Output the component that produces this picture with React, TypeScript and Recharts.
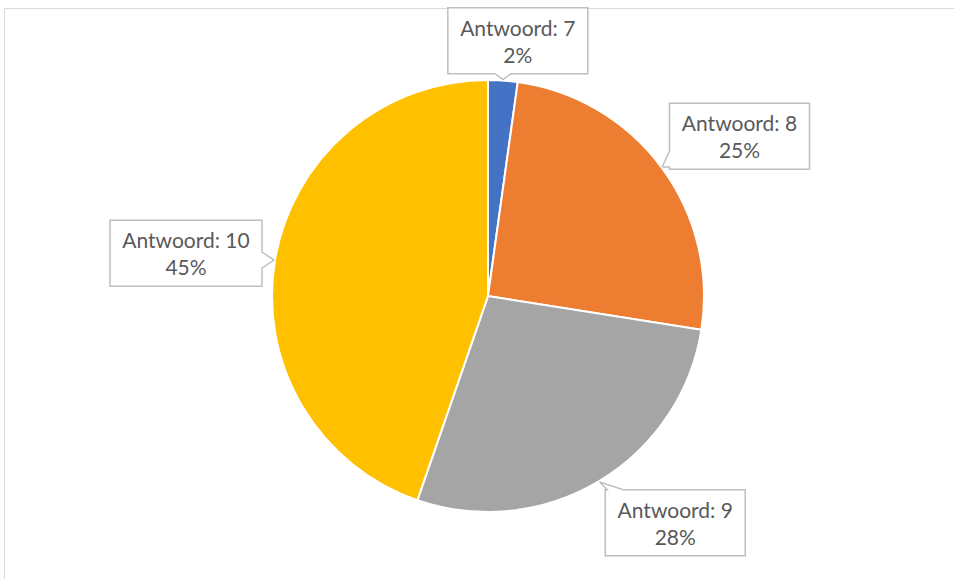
import { PieChart, Pie, Cell } from "recharts"

// ─── Data ────────────────────────────────────────────────────────────────────
const answers = ["Antwoord: 7", "Antwoord: 8", "Antwoord: 9", "Antwoord: 10"]
const shares = [2.2, 25.3, 27.8, 44.7]
const colors = ["#4472C4", "#ED7D31", "#A5A5A5", "#FFC000"]

const data = answers.map((name, i) => ({ name, value: shares[i] }))

// callout placement relative to each slice (distance past the rim, angular nudge in degrees)
const placement = [
  { extra: 41, turn: 2.7 },
  { extra: 82, turn: 4.1 },
  { extra: 78, turn: -8.6 },
  { extra: 89, turn: -1.5 },
]

const RAD = Math.PI / 180

// rectangle with a wedge pointing to (tx, ty)
function calloutPath(x: number, y: number, w: number, h: number, tx: number, ty: number) {
  const half = 8
  const clampX = (v: number) => Math.min(Math.max(v, x + half + 2), x + w - half - 2)
  const clampY = (v: number) => Math.min(Math.max(v, y + half + 2), y + h - half - 2)
  const overTop = y - ty
  const overBottom = ty - (y + h)
  const overLeft = x - tx
  const overRight = tx - (x + w)
  const max = Math.max(overTop, overBottom, overLeft, overRight)
  if (max <= 0) return `M${x},${y}H${x + w}V${y + h}H${x}Z`
  if (max === overTop) {
    const bx = clampX(tx)
    return `M${x},${y}H${bx - half}L${tx},${ty}L${bx + half},${y}H${x + w}V${y + h}H${x}Z`
  }
  if (max === overBottom) {
    const bx = clampX(tx)
    return `M${x},${y}H${x + w}V${y + h}H${bx + half}L${tx},${ty}L${bx - half},${y + h}H${x}Z`
  }
  if (max === overRight) {
    const by = clampY(ty)
    return `M${x},${y}H${x + w}V${by - half}L${tx},${ty}L${x + w},${by + half}V${y + h}H${x}Z`
  }
  const by = clampY(ty)
  return `M${x},${y}H${x + w}V${y + h}H${x}V${by + half}L${tx},${ty}L${x},${by - half}Z`
}

// ─── Callout label ───────────────────────────────────────────────────────────
function CalloutLabel(props: any) {
  const { cx, cy, midAngle, outerRadius, index, percent, name } = props
  const p = placement[index]
  const cw = 90 - midAngle // clockwise from 12 o'clock
  const a = (cw + p.turn) * RAD
  const dist = outerRadius + p.extra
  const bx = cx + dist * Math.sin(a)
  const by = cy - dist * Math.cos(a)
  const w = 8 + 12 * String(name).length
  const h = 66
  const x = bx - w / 2
  const y = by - h / 2
  const ta = cw * RAD
  const tx = cx + (outerRadius + 1) * Math.sin(ta)
  const ty = cy - (outerRadius + 1) * Math.cos(ta)
  return (
    <g>
      <path d={calloutPath(x, y, w, h, tx, ty)} fill="#fff" stroke="#BFBFBF" strokeWidth={1.5} />
      <text x={bx} y={y + 28} textAnchor="middle" fill="#595959" fontSize={21} fontFamily="Lato, 'Noto Sans', sans-serif">
        {name}
      </text>
      <text x={bx} y={y + 55} textAnchor="middle" fill="#595959" fontSize={21} fontFamily="Lato, 'Noto Sans', sans-serif">
        {`${Math.round(percent * 100)}%`}
      </text>
    </g>
  )
}

// ─── Main ────────────────────────────────────────────────────────────────────
export default function App() {
  return (
    <div
      style={{
        position: "absolute",
        left: 0,
        top: 0,
        width: 954,
        height: 579,
        overflow: "hidden",
        background: "#fff",
      }}
    >
      <div
        style={{
          position: "absolute",
          left: 4,
          top: 8,
          width: 1000,
          height: 700,
          border: "1px solid #D9D9D9",
        }}
      />
      <div style={{ position: "absolute", left: 0, top: 0 }}>
        <PieChart width={954} height={579} margin={{ top: 0, right: 0, bottom: 0, left: 0 }}>
          <Pie
            data={data}
            dataKey="value"
            nameKey="name"
            cx={488}
            cy={296}
            outerRadius={216}
            startAngle={90}
            endAngle={-270}
            stroke="#fff"
            strokeWidth={2}
            labelLine={false}
            label={CalloutLabel}
            isAnimationActive={false}
          >
            {data.map((d, i) => (
              <Cell key={d.name} fill={colors[i]} />
            ))}
          </Pie>
        </PieChart>
      </div>
    </div>
  )
}
